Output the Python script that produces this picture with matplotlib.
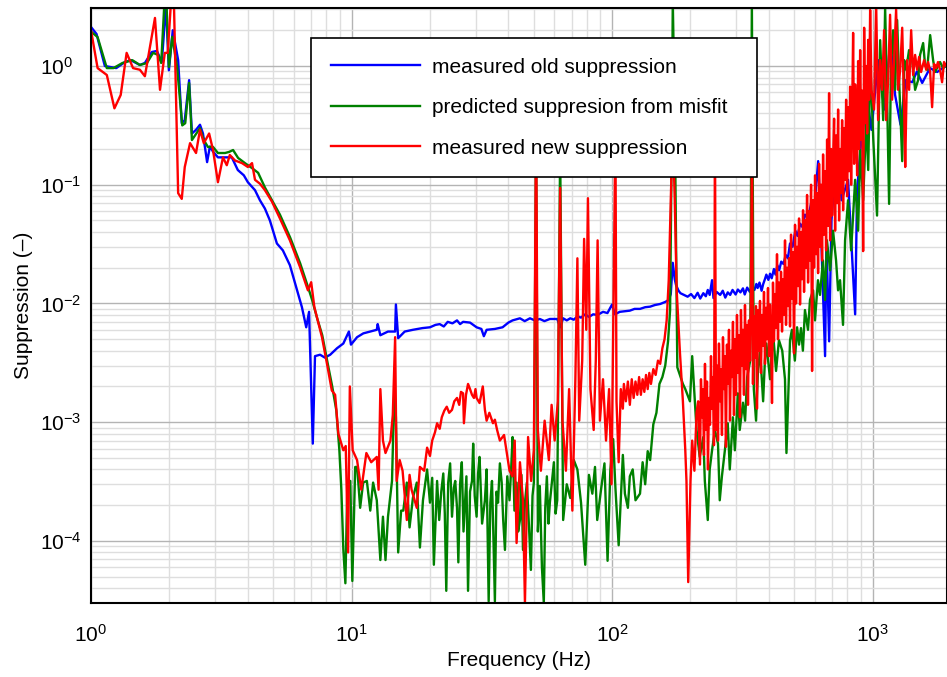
import numpy as np
import matplotlib
matplotlib.use("Agg")
import matplotlib.pyplot as plt
from matplotlib.ticker import LogLocator, NullFormatter

plt.rcParams['font.family'] = ['Liberation Sans', 'DejaVu Sans']

# (frequency Hz, suppression)
old_supp = [
    (1.0, 2.13), (1.05, 1.86), (1.13, 1.0), (1.25, 0.96), (1.35, 1.08), (1.42, 1.12),
    (1.54, 1.02), (1.61, 1.06), (1.71, 1.31), (1.79, 1.34), (1.87, 1.08), (1.94, 3.3),
    (1.99, 0.92), (2.06, 2.0), (2.16, 1.12), (2.23, 0.33), (2.29, 0.35), (2.38, 0.76),
    (2.44, 0.27), (2.53, 0.29), (2.62, 0.32), (2.69, 0.27), (2.79, 0.155), (2.86, 0.21),
    (2.94, 0.19), (3.07, 0.17), (3.27, 0.17), (3.47, 0.17), (3.66, 0.133), (3.86, 0.12),
    (4.0, 0.105), (4.26, 0.09), (4.45, 0.074), (4.65, 0.063), (4.86, 0.050), (5.17, 0.032),
    (5.45, 0.028), (5.8, 0.021), (6.07, 0.0148), (6.45, 0.0093), (6.7, 0.0063), (6.87, 0.0085),
    (7.1, 0.00066), (7.24, 0.0036), (7.57, 0.0037), (7.9, 0.0035), (8.28, 0.0037), (8.8, 0.0042),
    (9.3, 0.0046), (9.77, 0.0058), (9.95, 0.0045), (10.5, 0.0052), (11.1, 0.0056), (11.8, 0.0058),
    (12.5, 0.0060), (12.6, 0.0067), (12.9, 0.0054), (13.8, 0.0058), (14.7, 0.0058), (14.8, 0.0098),
    (15.1, 0.0051), (16.0, 0.0058), (17.2, 0.0060), (18.7, 0.0062), (20.0, 0.0063), (21.0, 0.0066),
    (21.8, 0.0067), (22.6, 0.0064), (23.4, 0.0070), (24.4, 0.0068), (25.4, 0.0072), (26.1, 0.0067),
    (26.8, 0.0070), (28.5, 0.0069), (30.2, 0.0063), (31.5, 0.0061), (32.2, 0.0053), (33.0, 0.0060),
    (35.5, 0.0061), (38.0, 0.0063), (40.0, 0.0069), (41.5, 0.0072), (44.3, 0.0075), (46.2, 0.0071),
    (48.4, 0.0075), (50.5, 0.0072), (52.8, 0.0074), (55.0, 0.0071), (57.7, 0.0074), (61.6, 0.0074),
    (63.2, 0.0063), (64.9, 0.0075), (67.0, 0.0072), (69.1, 0.0075), (71.3, 0.0073), (73.6, 0.0078),
    (76.0, 0.0076), (78.9, 0.0081), (81.5, 0.0077), (84.6, 0.0081), (88.0, 0.0080), (92.3, 0.0085),
    (96.0, 0.0083), (100, 0.0098), (102.6, 0.0081), (107, 0.0085), (112, 0.0086), (117, 0.0087),
    (122, 0.0090), (128, 0.0090), (134, 0.0093), (140, 0.0094), (146, 0.0097), (153, 0.0099),
    (160, 0.0103), (165, 0.0107), (168, 0.012), (171, 0.022), (174, 0.016), (176, 0.0143),
    (180, 0.0128), (183, 0.0122), (189, 0.0118), (195, 0.0114), (201, 0.0120), (207, 0.0111),
    (213, 0.0123), (218, 0.0110), (224, 0.0122), (229, 0.0115), (233, 0.0130), (237, 0.0118),
    (242, 0.0157), (245, 0.0111), (252, 0.0125), (260, 0.0118), (266, 0.0128), (272, 0.0112),
    (278, 0.0124), (284, 0.0118), (290, 0.0130), (298, 0.0119), (304, 0.0131), (311, 0.0124),
    (318, 0.0134), (323, 0.0119), (330, 0.0136), (338, 0.0125), (344, 0.0138), (352, 0.0130),
    (358, 0.0146), (362, 0.0135), (368, 0.0150), (375, 0.0128), (380, 0.0145), (386, 0.0160),
    (391, 0.0175), (398, 0.0158), (404, 0.0178), (410, 0.0163), (418, 0.0195), (424, 0.0175),
    (431, 0.0210), (438, 0.0190), (446, 0.0225), (455, 0.0215), (464, 0.0256), (473, 0.0240),
    (482, 0.032), (493, 0.030), (505, 0.041), (515, 0.037), (527, 0.047), (538, 0.044),
    (550, 0.056), (565, 0.052), (584, 0.074), (600, 0.07), (618, 0.158), (630, 0.061),
    (657, 0.0036), (665, 0.034), (681, 0.0048), (695, 0.050), (731, 0.2), (760, 0.074),
    (805, 0.11), (857, 0.0081), (872, 0.09), (905, 0.24), (955, 0.52), (990, 0.29),
    (1050, 1.12), (1110, 0.43), (1170, 1.65), (1220, 0.57), (1280, 0.32), (1340, 0.76),
    (1420, 0.73), (1480, 0.9), (1550, 0.72), (1660, 0.96), (1770, 0.89), (1932, 1.02),
]

predicted_supp = [
    (1.0, 1.95), (1.06, 1.75), (1.15, 0.96), (1.22, 0.96), (1.32, 1.06), (1.44, 1.12),
    (1.54, 1.02), (1.64, 1.06), (1.73, 1.29), (1.81, 1.24), (1.86, 1.06), (1.91, 3.2),
    (1.95, 3.2), (1.99, 0.98), (2.05, 1.76), (2.14, 0.98), (2.24, 0.316), (2.30, 0.33),
    (2.38, 0.72), (2.44, 0.238), (2.62, 0.30), (2.71, 0.238), (2.81, 0.208), (2.94, 0.208),
    (3.07, 0.185), (3.27, 0.185), (3.39, 0.189), (3.51, 0.196), (3.67, 0.168), (3.90, 0.152),
    (4.15, 0.138), (4.38, 0.126), (4.66, 0.094), (4.95, 0.074), (5.31, 0.056), (5.81, 0.036),
    (6.35, 0.0218), (6.81, 0.0137), (7.06, 0.0107), (7.38, 0.0075), (7.72, 0.0054), (8.06, 0.0033),
    (8.43, 0.0020), (8.74, 0.00126), (8.98, 0.00058), (9.14, 0.00027), (9.30, 0.000085),
    (9.47, 0.000044), (9.64, 0.00031), (9.89, 0.00032), (10.07, 0.000046), (10.33, 0.00042),
    (10.51, 0.00042), (10.79, 0.00019), (11.08, 0.00031), (11.45, 0.00032), (11.8, 0.00018),
    (12.1, 0.00031), (12.5, 0.00022), (12.9, 0.000069), (13.2, 0.00016), (13.5, 0.000069),
    (13.8, 0.00016), (14.3, 0.00032), (14.6, 0.0019), (14.8, 0.0011), (15.1, 0.000080),
    (15.5, 0.00018), (15.8, 0.00018), (16.3, 0.00031), (16.7, 0.00013), (17.2, 0.00023),
    (17.8, 0.00031), (18.3, 0.000088), (18.8, 0.00022), (19.5, 0.00040), (20.0, 0.00021),
    (20.4, 0.00034), (20.7, 0.000063), (21.3, 0.00032), (21.7, 0.00015), (22.1, 0.00026),
    (22.5, 0.00037), (22.8, 0.00017), (23.1, 0.000038), (23.5, 0.00031), (23.9, 0.00045),
    (24.3, 0.00016), (24.7, 0.00028), (25.0, 0.00032), (25.4, 0.00019), (25.7, 0.000066),
    (26.1, 0.00030), (26.5, 0.00046), (26.9, 0.00012), (27.3, 0.00022), (27.6, 0.00035),
    (28.0, 0.000038), (28.5, 0.00026), (29.0, 0.00032), (29.3, 0.00066), (29.7, 0.00024),
    (30.2, 0.00016), (30.6, 0.00037), (31.0, 0.00051), (31.7, 0.00014), (32.5, 0.00022),
    (33.0, 0.00040), (33.6, 0.000031), (34.1, 0.00021), (34.6, 0.00032), (35.0, 0.00012),
    (35.5, 0.000031), (36.0, 0.00026), (36.5, 0.00021), (37.1, 0.00045), (37.7, 0.00031),
    (38.2, 0.00015), (38.8, 0.000084), (39.6, 0.00035), (40.4, 0.00022), (41.0, 0.00041),
    (41.5, 0.00075), (42.2, 0.00018), (43.0, 0.00031), (43.6, 0.00012), (44.3, 0.00015),
    (44.9, 0.00036), (45.5, 0.000084), (46.3, 0.00021), (47.1, 0.00031), (48.0, 0.00013),
    (48.8, 0.000057), (49.5, 0.00024), (50.1, 0.00031), (51.1, 0.3), (51.9, 0.00012),
    (52.8, 0.00029), (53.8, 0.000060), (54.7, 0.000030), (55.4, 0.00019), (56.2, 0.00035),
    (57.0, 0.00014), (57.7, 0.00021), (58.8, 0.00032), (59.8, 0.00046), (60.7, 0.00017),
    (61.6, 0.00022), (63.2, 0.2), (64.9, 0.00015), (67.0, 0.00030), (69.1, 0.00023),
    (71.3, 0.00048), (73.6, 0.00040), (76.0, 0.00021), (78.9, 0.000063), (81.5, 0.00036),
    (84.0, 0.00025), (86.0, 0.00042), (87.7, 0.00015), (90.7, 0.00027), (93.5, 0.00045),
    (96.1, 0.000068), (98.5, 0.00040), (101, 0.00072), (103, 0.00028), (106, 0.000092),
    (110, 0.00053), (112, 0.00025), (115, 0.00019), (117, 0.00035), (120, 0.0004),
    (123, 0.00022), (128, 0.00025), (131, 0.00046), (134, 0.00030), (137, 0.00057),
    (140, 0.00048), (144, 0.00096), (148, 0.0012), (152, 0.0021), (156, 0.0024),
    (160, 0.0030), (164, 0.0048), (167, 0.0088), (170, 0.5), (171, 3.5), (174, 0.4),
    (178, 0.0029), (182, 0.0025), (187, 0.0021), (191, 0.0019), (199, 0.0015), (203, 0.0036),
    (208, 0.00146), (211, 0.00086), (217, 0.00051), (224, 0.00075), (227, 0.00032),
    (233, 0.00015), (237, 0.0004), (242, 0.00058), (248, 0.00086), (255, 0.00066),
    (259, 0.00022), (264, 0.00035), (271, 0.00058), (278, 0.00098), (283, 0.0004),
    (291, 0.0011), (296, 0.00058), (304, 0.00175), (309, 0.00086), (318, 0.00146),
    (324, 0.00103), (330, 0.0024), (339, 0.0033), (344, 3.5), (350, 0.0019),
    (357, 0.00103), (363, 0.0027), (370, 0.004), (380, 0.0015), (386, 0.0033),
    (391, 0.0046), (404, 0.0023), (415, 0.0056), (426, 0.0027), (437, 0.0049),
    (450, 0.004), (461, 0.0023), (467, 0.00055), (482, 0.0049), (490, 0.006),
    (503, 0.0033), (513, 0.0063), (522, 0.0045), (531, 0.0062), (540, 0.004),
    (550, 0.0088), (565, 0.006), (575, 0.0107), (591, 0.0129), (601, 0.0072),
    (617, 0.0157), (628, 0.0118), (645, 0.023), (657, 0.0107), (668, 0.034),
    (687, 0.019), (705, 0.041), (724, 0.023), (737, 0.0129), (750, 0.0157),
    (770, 0.0066), (784, 0.034), (805, 0.074), (827, 0.028), (857, 0.11),
    (880, 0.041), (896, 0.196), (920, 0.074), (945, 0.35), (962, 0.133),
    (979, 1.12), (1006, 0.24), (1040, 0.055), (1069, 1.65), (1098, 0.35),
    (1117, 3.1), (1137, 0.52), (1157, 0.069), (1177, 1.12), (1199, 2.0),
    (1220, 0.63), (1242, 2.44), (1264, 0.76), (1299, 0.158), (1322, 1.12),
    (1345, 0.93), (1380, 1.36), (1419, 1.12), (1456, 0.63), (1495, 0.76),
    (1521, 1.24), (1563, 1.56), (1590, 1.02), (1619, 0.93), (1663, 1.82),
    (1707, 1.12), (1737, 0.89), (1783, 1.0), (1815, 1.08), (1864, 0.96),
    (1932, 1.02),
]

new_supp = [
    (1.0, 2.0), (1.06, 0.96), (1.15, 0.84), (1.23, 0.44), (1.30, 0.57), (1.37, 1.29),
    (1.45, 0.96), (1.54, 0.93), (1.61, 0.82), (1.76, 2.54), (1.84, 0.63), (1.92, 1.29),
    (1.97, 1.29), (2.03, 3.6), (2.08, 3.6), (2.16, 0.085), (2.23, 0.076), (2.29, 0.141),
    (2.40, 0.224), (2.53, 0.185), (2.62, 0.29), (2.71, 0.224), (2.84, 0.27), (2.94, 0.196),
    (3.07, 0.105), (3.21, 0.17), (3.32, 0.146), (3.41, 0.178), (3.57, 0.16), (3.80, 0.152),
    (4.0, 0.141), (4.15, 0.152), (4.26, 0.11), (4.45, 0.102), (4.65, 0.090), (4.95, 0.072),
    (5.31, 0.052), (5.8, 0.034), (6.34, 0.0203), (6.8, 0.0129), (7.0, 0.0151), (7.2, 0.0093),
    (7.7, 0.0052), (8.05, 0.0031), (8.4, 0.00185), (8.65, 0.0017), (8.9, 0.0008), (9.3, 0.00058),
    (9.5, 0.00063), (9.7, 0.00008), (9.85, 0.002), (10.1, 0.00058), (10.5, 0.00048), (10.9, 0.00027),
    (11.4, 0.00055), (11.9, 0.00046), (12.5, 0.00051), (12.7, 0.00027), (12.9, 0.0019), (13.2, 0.0007),
    (13.5, 0.00055), (14.1, 0.0007), (14.4, 0.00115), (14.7, 0.0052), (14.9, 0.00032), (15.3, 0.00048),
    (15.7, 0.00039), (16.3, 0.00015), (16.7, 0.00036), (17.0, 0.00027), (17.8, 0.00019), (18.3, 0.00042),
    (19.0, 0.00039), (19.5, 0.00061), (20.0, 0.00052), (20.4, 0.0007), (20.9, 0.00082), (21.3, 0.00098),
    (21.8, 0.00088), (22.2, 0.0011), (22.7, 0.00125), (23.2, 0.00135), (23.7, 0.0012), (24.3, 0.00127),
    (24.8, 0.0015), (25.4, 0.0016), (25.9, 0.0014), (26.3, 0.0018), (26.8, 0.00175), (27.0, 0.00098),
    (27.5, 0.0017), (28.0, 0.0021), (28.5, 0.0019), (29.0, 0.0017), (29.5, 0.0016), (29.9, 0.0019),
    (30.2, 0.0016), (31.0, 0.00145), (31.9, 0.002), (32.5, 0.00127), (33.0, 0.00103), (33.8, 0.0012),
    (34.9, 0.00098), (35.5, 0.00105), (36.2, 0.00086), (37.1, 0.0007), (38.5, 0.00078), (39.3, 0.00058),
    (40.4, 0.00039), (41.5, 0.00035), (42.3, 0.0007), (43.0, 0.000096), (44.3, 0.00046), (45.5, 0.00022),
    (46.3, 0.00003), (47.6, 0.00075), (48.9, 0.00032), (50.1, 0.00058), (51.1, 0.35), (51.9, 0.00086),
    (53.3, 0.00039), (55.1, 0.00103), (57.2, 0.00048), (58.6, 0.0014), (60.2, 0.0007), (61.9, 0.0015),
    (63.2, 0.094), (64.5, 0.00103), (66.5, 0.00039), (68.4, 0.0019), (70.4, 0.00018), (72.3, 0.0023),
    (73.6, 0.024), (74.8, 0.00103), (76.8, 0.0033), (78.1, 0.035), (79.6, 0.006), (80.8, 0.077),
    (82.6, 0.0019), (85.0, 0.00086), (86.6, 0.0033), (88.0, 0.034), (89.8, 0.00103), (92.3, 0.0023),
    (94.8, 0.0007), (97.4, 0.0019), (99.5, 0.0003), (103, 0.29), (104, 0.0015), (106, 0.00046),
    (108, 0.0019), (110, 0.0013), (111, 0.0021), (113, 0.0015), (115, 0.0022), (117, 0.0014),
    (119, 0.0023), (121, 0.0016), (123, 0.0022), (125, 0.0017), (127, 0.0024), (129, 0.0017),
    (131, 0.0023), (133, 0.0018), (135, 0.0025), (137, 0.0019), (139, 0.0026), (141, 0.0021),
    (144, 0.0028), (147, 0.0025), (150, 0.0033), (153, 0.0031), (156, 0.0042), (159, 0.0050),
    (162, 0.0072), (165, 0.0157), (168, 0.074), (171, 0.3), (174, 0.074), (177, 0.0129),
    (182, 0.004), (187, 0.0015), (191, 0.00058), (193, 0.00032), (196, 0.000045), (200, 0.00032),
    (203, 0.0007), (207, 0.00039), (211, 0.0012), (214, 0.0015),
    # dense noisy band, 217 Hz to 980 Hz
    (217.5, 0.00044), (219.4, 0.0023), (221.4, 0.0011), (223.3, 0.0019), (225.3, 0.00053),
    (227.3, 0.0031), (229.3, 0.00086), (231.4, 0.0022), (233.4, 0.0004), (235.5, 0.0016),
    (237.6, 0.00095), (239.7, 0.0036), (241.8, 0.0013), (244.0, 0.0024), (246.1, 0.00064),
    (248.3, 0.29), (250.5, 0.00086), (252.7, 0.0030), (255.0, 0.0007), (257.2, 0.0046),
    (259.5, 0.0015), (261.8, 0.0028), (264.1, 0.00078), (266.5, 0.0052), (268.8, 0.0019),
    (271.2, 0.0036), (273.6, 0.00062), (276.0, 0.0045), (278.5, 0.0021), (281.0, 0.0060),
    (283.5, 0.00103), (286.0, 0.0040), (288.5, 0.0024), (291.1, 0.0070), (293.7, 0.00115),
    (296.3, 0.0050), (298.9, 0.0017), (301.6, 0.0080), (304.2, 0.0026), (306.9, 0.0054),
    (309.7, 0.0011), (312.4, 0.0088), (315.2, 0.0030), (318.0, 0.0060), (320.8, 0.0017),
    (323.7, 0.0097), (326.5, 0.0028), (329.4, 0.0066), (332.4, 0.0014), (335.3, 0.0072),
    (338.3, 0.0033), (341.3, 0.0107), (344.3, 0.29), (347.4, 0.0021), (350.5, 0.0078),
    (353.6, 0.0035), (356.7, 0.0095), (359.9, 0.0013), (363.1, 0.0088), (366.3, 0.0040),
    (369.6, 0.0105), (372.8, 0.0026), (376.1, 0.0080), (379.5, 0.0044), (382.9, 0.0125),
    (386.3, 0.0031), (389.7, 0.0092), (393.2, 0.0050), (396.7, 0.0135), (400.2, 0.0036),
    (403.8, 0.0098), (407.3, 0.0055), (411.0, 0.00145), (414.6, 0.0150), (418.3, 0.0048),
    (422.0, 0.0120), (425.8, 0.0062), (429.6, 0.026), (433.4, 0.0050), (437.3, 0.0150),
    (441.2, 0.0070), (445.1, 0.0185), (449.1, 0.0058), (453.0, 0.0160), (457.1, 0.0080),
    (461.1, 0.034), (465.2, 0.0066), (469.4, 0.0200), (473.5, 0.0095), (477.7, 0.0240),
    (482.0, 0.0064), (486.3, 0.038), (490.6, 0.0110), (495.0, 0.0270), (499.4, 0.0038),
    (503.8, 0.046), (508.3, 0.0100), (512.8, 0.030), (517.4, 0.0140), (522.0, 0.052),
    (526.6, 0.0098), (531.3, 0.040), (536.0, 0.0160), (540.8, 0.061), (545.6, 0.0125),
    (550.5, 0.050), (555.4, 0.0200), (560.3, 0.082), (565.3, 0.0150), (570.3, 0.060),
    (575.4, 0.0230), (580.5, 0.10), (585.7, 0.0027), (590.9, 0.074), (596.1, 0.0200),
    (601.4, 0.12), (606.8, 0.0260), (612.2, 0.085), (617.6, 0.0180), (623.1, 0.15),
    (628.6, 0.0300), (634.2, 0.10), (639.9, 0.0230), (645.5, 0.18), (651.3, 0.0380),
    (657.1, 0.13), (662.9, 0.0280), (668.8, 0.24), (674.7, 0.045), (680.7, 0.59),
    (686.8, 0.034), (692.9, 0.20), (699.0, 0.055), (705.3, 0.16), (711.5, 0.36),
    (717.9, 0.041), (724.2, 0.26), (730.7, 0.070), (737.2, 0.43), (743.7, 0.050),
    (750.3, 0.20), (757.0, 0.085), (763.7, 0.35), (770.5, 0.061), (777.4, 0.30),
    (784.3, 0.11), (791.3, 0.52), (798.3, 0.080), (805.4, 0.45), (812.5, 0.13),
    (819.8, 0.67), (827.1, 0.10), (834.4, 0.38), (841.8, 1.9), (849.3, 0.15),
    (856.9, 0.70), (864.5, 0.35), (872.2, 0.12), (879.9, 1.1), (887.8, 0.20),
    (895.7, 1.36), (903.6, 0.24), (911.6, 0.62), (919.7, 0.0276), (927.9, 2.1),
    (936.2, 0.33), (944.5, 1.0), (952.9, 0.27), (961.4, 1.66), (969.9, 0.52),
    (978.5, 2.96),
    (990, 0.63), (1013, 0.43), (1032, 3.3),
    (1050, 0.35), (1069, 1.12), (1088, 0.63), (1107, 2.0), (1127, 0.35), (1147, 0.76),
    (1167, 2.7), (1188, 0.52), (1209, 1.12), (1231, 3.0), (1253, 0.63), (1276, 0.93),
    (1299, 2.1), (1322, 0.43), (1334, 0.141), (1357, 1.12), (1381, 0.63), (1406, 2.0),
    (1431, 0.84), (1456, 1.24), (1482, 0.93), (1508, 1.19), (1535, 0.89), (1577, 1.12),
    (1605, 0.93), (1634, 1.08), (1663, 0.89), (1692, 0.45), (1722, 1.04), (1753, 0.96),
    (1783, 1.08), (1815, 0.93), (1848, 0.73), (1880, 1.08), (1914, 1.0), (1932, 1.04),
]

f_old, s_old = np.array(old_supp).T
f_pred, s_pred = np.array(predicted_supp).T
f_new, s_new = np.array(new_supp).T

fig = plt.figure(figsize=(9.47, 6.77), dpi=100)
ax = fig.add_axes([0.0961, 0.1093, 0.9039, 0.8789])

ax.loglog(f_old, s_old, color='#0000ff', lw=1.7, label='measured old suppression')
ax.loglog(f_pred, s_pred, color='#008000', lw=1.7, label='predicted suppresion from misfit')
ax.loglog(f_new, s_new, color='#ff0000', lw=1.7, label='measured new suppression')

ax.set_xlim(1, 1930)
ax.set_ylim(3.0e-5, 3.08)

ax.xaxis.set_major_locator(LogLocator(base=10, numticks=10))
ax.yaxis.set_major_locator(LogLocator(base=10, numticks=10))
ax.xaxis.set_minor_locator(LogLocator(base=10, subs=np.arange(2, 10), numticks=20))
ax.yaxis.set_minor_locator(LogLocator(base=10, subs=np.arange(2, 10), numticks=20))
ax.xaxis.set_minor_formatter(NullFormatter())
ax.yaxis.set_minor_formatter(NullFormatter())

ax.grid(which='major', color='#b4b4b4', lw=1.0)
ax.grid(which='minor', color='#dedede', lw=1.0)
ax.set_axisbelow(True)
ax.tick_params(which='both', length=0, labelsize=15)
ax.tick_params(axis='x', pad=15)
ax.tick_params(axis='y', pad=36.5)

for sp in ax.spines.values():
    sp.set_linewidth(1.5)

ax.set_xlabel('Frequency (Hz)', fontsize=15, labelpad=4)
ax.set_ylabel('Suppression (–)', fontsize=15, labelpad=5)

leg = ax.legend(loc='upper left', bbox_to_anchor=(0.257, 0.7244, 0.521, 0.2252),
                mode='expand', borderaxespad=0,
                fontsize=15, fancybox=False, framealpha=1, edgecolor='black',
                borderpad=0.95, labelspacing=1.03, handlelength=4.3, handletextpad=0.58)
leg.get_frame().set_linewidth(1.2)

fig.canvas.draw()
for lab in ax.get_yticklabels():
    lab.set_horizontalalignment('left')

fig.savefig('out.png', dpi=100)
